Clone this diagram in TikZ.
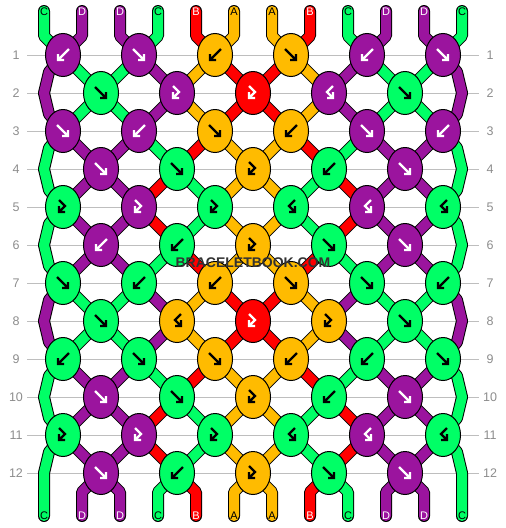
\documentclass[tikz,border=0pt]{standalone}
\usepackage{fontspec}
\setmainfont{Liberation Sans}
\definecolor{cA}{RGB}{255,187,0}
\definecolor{cB}{RGB}{255,0,0}
\definecolor{cC}{RGB}{0,255,102}
\definecolor{cD}{RGB}{155,20,158}
\colorlet{tA}{black}\colorlet{tB}{white}\colorlet{tC}{black}\colorlet{tD}{white}
\definecolor{gridc}{RGB}{190,190,190}
\definecolor{labc}{RGB}{140,140,140}
\definecolor{wmc}{RGB}{50,50,50}
\tikzset{
  strand/.style={draw=black, line width=1pt, double=#1, double distance=10pt, line join=round},
  tail/.style={strand=#1, line cap=round},
  knotst/.style={draw=black, line width=1pt, fill=#1},
  glyph/.style={draw=#1, line width=2.3pt, line cap=butt, line join=miter},
  rowlab/.style={text=labc, font=\fontsize{12.5}{12.5}\selectfont, inner sep=0pt},
  endlab/.style={font=\fontsize{11}{11}\selectfont, inner sep=0pt},
}
\newcommand\glyphF[2]{\draw[glyph=#2,shift={(#1)}] (-6,-6) -- (5,5) (5,-1) -- (5,5) -- (-1,5);}
\newcommand\glyphB[2]{\draw[glyph=#2,shift={(#1)}] (6,-6) -- (-5,5) (-5,-1) -- (-5,5) -- (1,5);}
\newcommand\glyphFB[2]{\draw[glyph=#2,shift={(#1)}] (-4,-7) -- (2,-1) -- (-4,5) (-4,-1) -- (-4,5) -- (2,5);}
\newcommand\glyphBF[2]{\draw[glyph=#2,shift={(#1)}] (4,-7) -- (-2,-1) -- (4,5) (4,-1) -- (4,5) -- (-2,5);}
\begin{document}
\begin{tikzpicture}[x=1pt,y=-1pt]
\useasboundingbox (0,0) rectangle (506,528);
% grid lines and row labels
\foreach \r in {1,...,12}{
  \pgfmathsetmacro\yy{55+38*(\r-1)}
  \draw[gridc, line width=1pt] (27,\yy) -- (479,\yy);
  \node[rowlab] (L\r) at (16,\yy) {\r};
  \node[rowlab] (R\r) at (490,\yy) {\r};
}
% top tails
\foreach[count=\i from 0] \c in {C,D,D,C,B,A,A,B,C,D,D,C}{
  \pgfmathsetmacro\xt{44+38*\i}
  \pgfmathsetmacro\xk{63+76*floor(\i/2)}
  \draw[tail=c\c] (\xk,55) -- (\xt,36) -- (\xt,11);
}
% bottom tails
\foreach[count=\i from 0] \c in {C,D,D,C,B,A,A,B,C,D,D,C}{
  \pgfmathsetmacro\xt{44+38*\i}
  \pgfmathsetmacro\xk{101+76*floor((\i-1)/2)}
  \ifnum\i=0\relax
    \draw[tail=c\c] (63,435) -- (49,452) -- (44,473) -- (44,516);
  \else\ifnum\i=11\relax
    \draw[tail=c\c] (443,435) -- (457,452) -- (462,473) -- (462,516);
  \else
    \draw[tail=c\c] (\xk,473) -- (\xt,492) -- (\xt,516);
  \fi\fi
}
% edge strands
\foreach \r/\c in {1/D,3/C,5/C,7/D,9/C}{
  \pgfmathsetmacro\ya{55+38*(\r-1)}
  \draw[strand=c\c] (63,\ya) -- ++(-14,17) -- ++(-5,21) -- ++(5,21) -- ++(14,17);
  \draw[strand=c\c] (443,\ya) -- ++(14,17) -- ++(5,21) -- ++(-5,21) -- ++(-14,17);
}
% links between knots
\foreach \r/\st in {
  1/{D,C,C,D,A,B,B,A,D,C,C,D},
  2/{D,C,C,D,A,B,B,A,D,C,C,D},
  3/{C,D,D,C,B,A,A,B,C,D,D,C},
  4/{C,D,D,B,C,A,A,C,B,D,D,C},
  5/{C,D,D,B,C,A,A,C,B,D,D,C},
  6/{C,D,D,C,B,A,A,B,C,D,D,C},
  7/{D,C,C,D,A,B,B,A,D,C,C,D},
  8/{D,C,C,D,A,B,B,A,D,C,C,D},
  9/{C,D,D,C,B,A,A,B,C,D,D,C},
  10/{C,D,D,B,C,A,A,C,B,D,D,C},
  11/{C,D,D,B,C,A,A,C,B,D,D,C}}{
  \pgfmathsetmacro\ya{55+38*(\r-1)}
  \pgfmathsetmacro\yb{\ya+38}
  \foreach[count=\i from 0] \c in \st {
    \ifnum\i>0\relax\ifnum\i<11\relax
      \pgfmathsetmacro\xo{63+76*floor(\i/2)}
      \pgfmathsetmacro\xe{101+76*floor((\i-1)/2)}
      \pgfmathsetmacro\xa{isodd(\r) ? \xo : \xe}
      \pgfmathsetmacro\xb{isodd(\r) ? \xe : \xo}
      \draw[strand=c\c] (\xa,\ya) -- (\xb,\yb);
    \fi\fi
  }
}
% knots
\foreach \r/\lst in {
  1/{D/B,D/F,A/B,A/F,D/B,D/F},
  2/{C/F,D/FB,B/FB,D/BF,C/F},
  3/{D/F,D/B,A/F,A/B,D/F,D/B},
  4/{D/F,C/F,A/FB,C/B,D/F},
  5/{C/FB,D/FB,C/FB,C/BF,D/BF,C/BF},
  6/{D/B,C/B,A/FB,C/F,D/F},
  7/{C/F,C/B,A/B,A/F,C/F,C/B},
  8/{C/F,A/BF,B/FB,A/FB,C/F},
  9/{C/B,C/F,A/F,A/B,C/B,C/F},
  10/{D/F,C/F,A/FB,C/B,D/F},
  11/{C/FB,D/FB,C/FB,C/BF,D/BF,C/BF},
  12/{D/F,C/B,A/FB,C/F,D/F}}{
  \foreach[count=\k from 0] \c/\t in \lst {
    \pgfmathsetmacro\xx{(isodd(\r) ? 63 : 101)+76*\k}
    \pgfmathsetmacro\yy{55+38*(\r-1)}
    \draw[knotst=c\c] (\xx,\yy) ellipse [x radius=17.5, y radius=21.5];
    \csname glyph\t\endcsname{\xx,\yy}{t\c}
  }
}
% strand labels
\foreach[count=\i from 0] \c in {C,D,D,C,B,A,A,B,C,D,D,C}{
  \pgfmathsetmacro\xt{44+38*\i}
  \node[endlab, text=t\c] (top\i) at (\xt,12) {\c};
  \node[endlab, text=t\c] (bot\i) at (\xt,516) {\c};
}
% watermark
\node[font=\fontsize{14}{14}\selectfont\bfseries, text=wmc, inner sep=0pt] (wm) at (253,263) {BRACELETBOOK.COM};
\end{tikzpicture}
\end{document}
